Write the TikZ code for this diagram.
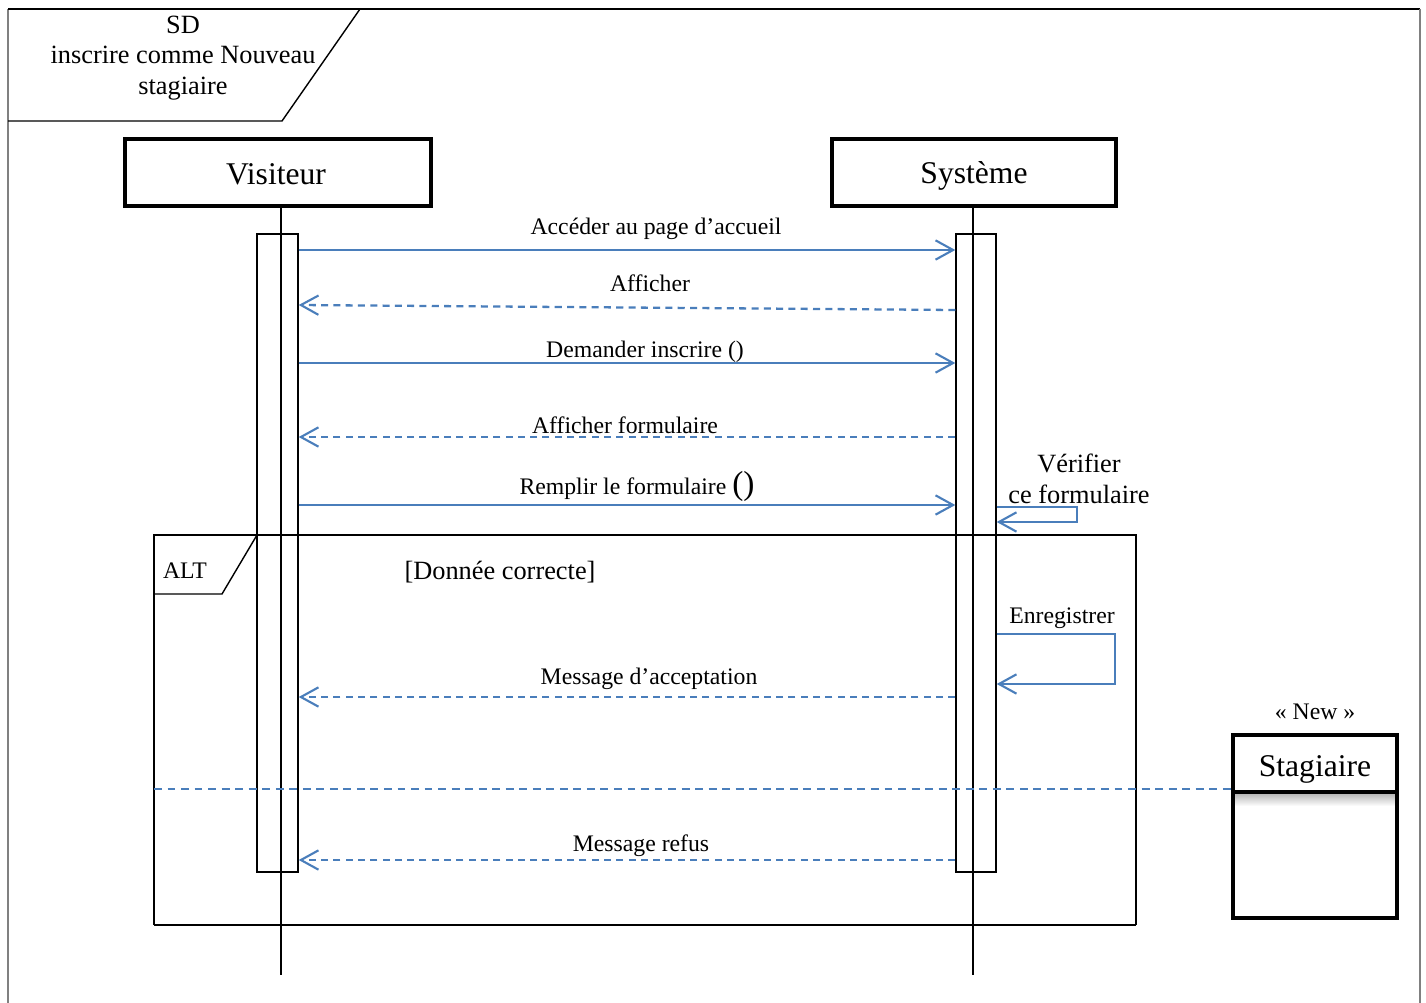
\documentclass[tikz,border=0pt]{standalone}
\usepackage{fontspec}
\setmainfont{Liberation Serif}
\usetikzlibrary{arrows.meta}
\definecolor{msgblue}{RGB}{74,126,187}
\tikzset{
  actor/.style={draw,line width=2.3pt,inner sep=0pt,font=\fontsize{18}{21}\selectfont},
  activ/.style={draw,line width=0.8pt,inner sep=0pt},
  call/.style={msgblue,line width=1.3pt,-{Straight Barb[length=10pt,width=11pt,line width=1.2pt]}},
  reply/.style={call,dash pattern=on 4pt off 3pt},
  lbl/.style={font=\fontsize{13.5}{16}\selectfont,inner sep=0pt},
  biglbl/.style={font=\fontsize{15}{17.5}\selectfont,inner sep=0pt,align=center},
}
\begin{document}
\begin{tikzpicture}[x=0.02cm,y=-0.02cm]
  \useasboundingbox (0,0) rectangle (1426,1003);

  % frame
  \draw[gray,line width=0.8pt] (8,1003) -- (8,9);
  \draw[line width=0.8pt] (8,9) -- (1420,9);
  \draw[gray,line width=0.8pt] (1420,9) -- (1420,1003);
  \draw[line width=0.8pt] (8,121) -- (282,121) -- (360,9);
  \node[biglbl] (sd) at (183,58) {SD\\inscrire comme Nouveau\\stagiaire};

  % lifelines
  \node[actor,minimum width=6.12cm,minimum height=1.34cm] (vis) at (278,172.5) {};
  \node[actor,minimum width=5.68cm,minimum height=1.34cm] (sys) at (974,172.5) {};
  \node[font=\fontsize{18}{21}\selectfont] (visname) at (276,174.5) {Visiteur};
  \node[font=\fontsize{18}{21}\selectfont] (sysname) at (974,175.5) {Système};
  \coordinate (visend) at (281,975);
  \coordinate (sysend) at (973,975);
  \draw[line width=0.8pt] (vis.south -| visend) -- (visend);
  \draw[line width=0.8pt] (sys.south -| sysend) -- (sysend);
  \node[activ,minimum width=0.82cm,minimum height=12.76cm] (va) at (277.5,553) {};
  \node[activ,minimum width=0.8cm,minimum height=12.76cm] (sa) at (976,553) {};

  % messages
  \draw[call] (va.east |- 0,250) -- (sa.west |- 0,250);
  \node[lbl] (m1) at (656,229) {Accéder au page d’accueil};
  \draw[reply] (sa.west |- 0,310) -- (va.east |- 0,305);
  \node[lbl] (m2) at (650,283) {Afficher};
  \draw[call] (va.east |- 0,363) -- (sa.west |- 0,363);
  \node[lbl] (m3) at (645,352) {Demander inscrire ()};
  \draw[reply] (sa.west |- 0,437) -- (va.east |- 0,437);
  \node[lbl] (m4) at (625,425) {Afficher formulaire};
  \draw[call] (va.east |- 0,505) -- (sa.west |- 0,505);
  \node[lbl] (m5) at (637,486) {Remplir le formulaire {\fontsize{19}{20}\selectfont()}};
  \draw[call] (sa.east |- 0,507) -- (1077,507) -- (1077,522) -- (sa.east |- 0,522);
  \node[biglbl] (verif) at (1079,479) {Vérifier\\ce formulaire};

  % alt fragment
  \draw[line width=0.8pt] (154,925) -- (154,535) -- (1136,535) -- (1136,925);
  \draw[line width=1.2pt] (154,925) -- (1136,925);
  \draw[line width=0.8pt] (154,594) -- (222,594) -- (257,535);
  \node[lbl] (alt) at (185,571) {ALT};
  \node[biglbl] (guard) at (500,572) {[Donnée correcte]};
  \draw[call] (sa.east |- 0,634) -- (1115,634) -- (1115,684) -- (sa.east |- 0,684);
  \node[lbl] (enr) at (1062,618) {Enregistrer};
  \draw[reply] (sa.west |- 0,697) -- (va.east |- 0,697);
  \node[lbl] (m6) at (649,679) {Message d’acceptation};
  \draw[reply] (sa.west |- 0,860) -- (va.east |- 0,860);
  \node[lbl] (m7) at (641,846) {Message refus};

  % new object
  \shade[top color=gray!60,bottom color=white] (1235,793) rectangle (1395,806);
  \node[draw,line width=2.3pt,minimum width=3.28cm,minimum height=3.66cm] (stag) at (1315,826.5) {};
  \draw[line width=2.3pt] (stag.west |- 0,792) -- (stag.east |- 0,792);
  \node[font=\fontsize{18}{21}\selectfont] (stagname) at (1315,769) {Stagiaire};
  \node[lbl] (new) at (1315,712) {« New »};
  \draw[msgblue,line width=0.9pt,dash pattern=on 4.5pt off 3.2pt] (154,789) -- (stag.west |- 0,789);
\end{tikzpicture}
\end{document}
